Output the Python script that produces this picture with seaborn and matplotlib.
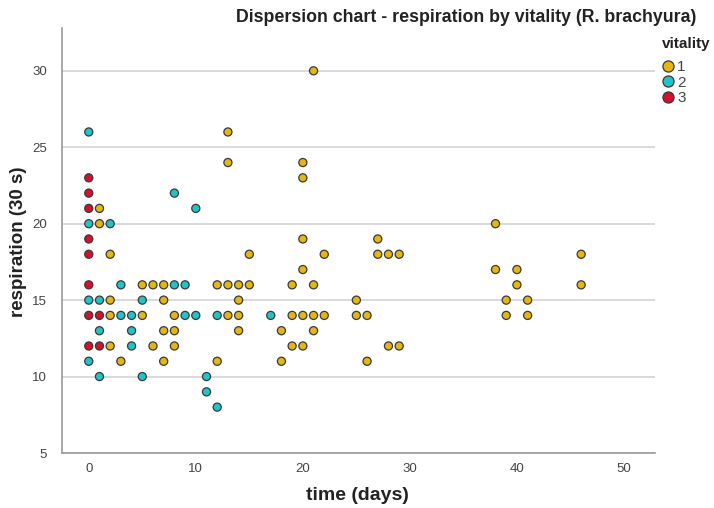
import matplotlib
matplotlib.use("Agg")
import matplotlib.pyplot as plt
from matplotlib.lines import Line2D
import seaborn as sns
import pandas as pd

# vitality 1
time_v1 = [1, 1, 2, 2, 2, 2, 3, 5, 6, 7, 7, 5, 8, 7, 8, 6, 8, 7,
           12, 13, 14, 15, 19, 21, 14, 13, 14, 19, 20, 21, 22, 14, 18, 21, 19, 20, 12, 18,
           13, 13, 20, 20, 20, 15, 20, 21,
           27, 22, 27, 28, 29, 25, 25, 26, 28, 29, 26,
           38, 46, 38, 40, 40, 46, 39, 41, 39, 41]
resp_v1 = [21, 20, 18, 15, 14, 12, 11, 16, 16, 16, 15, 14, 14, 13, 13, 12, 12, 11,
           16, 16, 16, 16, 16, 16, 15, 14, 14, 14, 14, 14, 14, 13, 13, 13, 12, 12, 11, 11,
           26, 24, 24, 23, 19, 18, 17, 30,
           19, 18, 18, 18, 18, 15, 14, 14, 12, 12, 11,
           20, 18, 17, 17, 16, 16, 15, 15, 14, 14]

# vitality 2
time_v2 = [0, 8, 0, 2, 10, 3, 8, 9, 0, 1, 5, 3, 4, 9, 10, 12, 17, 1, 4, 4, 0, 1, 5, 11, 11, 12]
resp_v2 = [26, 22, 20, 20, 21, 16, 16, 16, 15, 15, 15, 14, 14, 14, 14, 14, 14, 13, 13, 12, 11, 10, 10, 10, 9, 8]

# vitality 3
time_v3 = [0, 0, 0, 0, 0, 0, 0, 1, 0, 1]
resp_v3 = [23, 22, 21, 19, 18, 16, 14, 14, 12, 12]

vitality_levels = ["1", "2", "3"]
palette = {"1": "#E3B612", "2": "#1FC3C9", "3": "#D3102D"}

df = pd.DataFrame({
    "time": time_v1 + time_v2 + time_v3,
    "respiration": resp_v1 + resp_v2 + resp_v3,
    "vitality": ["1"] * len(time_v1) + ["2"] * len(time_v2) + ["3"] * len(time_v3),
})

sns.set_style("white")
plt.rcParams["font.family"] = ["Liberation Sans", "DejaVu Sans"]

W, H = 714, 508
fig = plt.figure(figsize=(W / 100, H / 100), dpi=100)
ax = fig.add_axes([62 / W, 55 / H, (655 - 62) / W, (453 - 28) / H])

sns.scatterplot(data=df, x="time", y="respiration", hue="vitality",
                hue_order=vitality_levels, palette=palette, s=34,
                edgecolor="#3a3a3a", linewidth=0.9, ax=ax, legend=False, zorder=3)

ax.set_xlim(-2.5, 52.9)
ax.set_ylim(5, 32.8)
ax.set_xticks([0, 10, 20, 30, 40, 50])
ax.set_yticks([5, 10, 15, 20, 25, 30])
ax.yaxis.grid(True, color="#d9d9d9", linewidth=1.4, zorder=0)
ax.xaxis.grid(False)
for side in ["top", "right"]:
    ax.spines[side].set_visible(False)
for side in ["left", "bottom"]:
    ax.spines[side].set_color("#9a9a9a")
    ax.spines[side].set_linewidth(1.2)
ax.tick_params(axis="both", length=0, labelsize=9.5, labelcolor="#444444")
ax.tick_params(axis="y", pad=11)
ax.tick_params(axis="x", pad=7)
ax.set_xlabel("")
ax.set_ylabel("")

fig.text(357 / W, 1 - 495 / H, "time (days)", ha="center", va="center",
         fontsize=14, fontweight="bold", color="#222222")
fig.text(19 / W, 1 - 242 / H, "respiration (30 s)", ha="center", va="center",
         rotation=90, fontsize=13.5, fontweight="bold", color="#222222")

fig.text(466 / W, 1 - 17 / H, "Dispersion chart - respiration by vitality (R. brachyura)",
         ha="center", va="center", fontsize=12.75, fontweight="bold", color="#222222")

# legend
fig.text(662 / W, 1 - 44 / H, "vitality", ha="left", va="center",
         fontsize=11, fontweight="bold", color="#222222")
handles = [Line2D([0], [0], marker="o", linestyle="", markersize=8,
                  markerfacecolor=palette[v], markeredgecolor="#3a3a3a",
                  markeredgewidth=0.9, label=v) for v in vitality_levels]
leg = fig.legend(handles=handles, loc="upper left",
                 bbox_to_anchor=(659 / W, 1 - 60 / H), frameon=False,
                 handletextpad=0.0, handlelength=1.2, labelspacing=0.1,
                 fontsize=11, borderaxespad=0, borderpad=0)
for t in leg.get_texts():
    t.set_color("#444444")

fig.savefig("out.png", dpi=100)
